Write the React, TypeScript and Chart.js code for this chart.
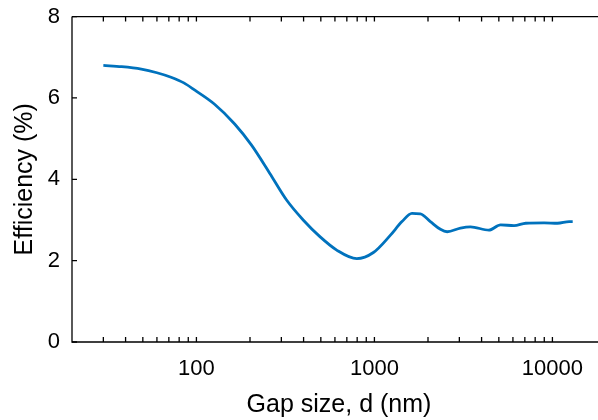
import React, { useEffect, useRef } from "react";
import { Chart, registerables } from "chart.js";

Chart.register(...registerables);

const gapSizes = [30, 38, 49, 60, 72, 85, 98, 126, 164, 204, 258, 321, 398, 494, 614, 796, 987, 1227, 1428, 1626, 1811, 2062, 2349, 2561, 3043, 3465, 4397, 5117, 6085, 7081, 8981, 10680, 12420, 13000];
const efficiency = [6.80, 6.77, 6.71, 6.62, 6.51, 6.37, 6.19, 5.85, 5.36, 4.84, 4.15, 3.49, 3.00, 2.59, 2.26, 2.05, 2.20, 2.62, 2.96, 3.16, 3.15, 2.96, 2.77, 2.71, 2.80, 2.83, 2.75, 2.88, 2.86, 2.92, 2.93, 2.92, 2.96, 2.96];
const xTickValues = [20, 30, 40, 50, 60, 70, 80, 90, 100, 200, 300, 400, 500, 600, 700, 800, 900, 1000, 2000, 3000, 4000, 5000, 6000, 7000, 8000, 9000, 10000, 20000];
const xLabelValues = [100, 1000, 10000];
const yTickValues = [0, 2, 4, 6, 8];

const FONT = "'Liberation Sans', Arial, Helvetica, sans-serif";

const axesBoxPlugin = {
  id: "axesBox",
  afterDraw(chart: any) {
    const { ctx, chartArea } = chart;
    const xs = chart.scales.x;
    const ys = chart.scales.y;
    const { left, right, top, bottom } = chartArea;
    ctx.save();
    ctx.strokeStyle = "#000";
    ctx.lineWidth = 1.3;
    ctx.beginPath();
    ctx.moveTo(left, top);
    ctx.lineTo(left, bottom);
    ctx.lineTo(right, bottom);
    ctx.moveTo(left, top);
    ctx.lineTo(right, top);
    ctx.lineTo(right, bottom);
    ctx.stroke();
    const tl = 5;
    ctx.beginPath();
    xTickValues.forEach((v) => {
      if (v <= xs.min || v >= xs.max) return;
      const px = xs.getPixelForValue(v);
      ctx.moveTo(px, bottom);
      ctx.lineTo(px, bottom - tl);
      ctx.moveTo(px, top);
      ctx.lineTo(px, top + tl);
    });
    yTickValues.forEach((v) => {
      const py = ys.getPixelForValue(v);
      ctx.moveTo(left, py);
      ctx.lineTo(left + tl, py);
    });
    ctx.stroke();
    ctx.restore();
  },
};

export default function App() {
  const ref = useRef<HTMLCanvasElement>(null);
  useEffect(() => {
    if (!ref.current) return;
    Chart.defaults.font.family = FONT;
    Chart.defaults.color = "#000";
    const chart = new Chart(ref.current, {
      type: "line",
      data: {
        datasets: [
          {
            data: gapSizes.map((g, i) => ({ x: g, y: efficiency[i] })),
            borderColor: "#0072BD",
            borderWidth: 2.8,
            pointRadius: 0,
            fill: false,
            cubicInterpolationMode: "monotone",
          },
        ],
      },
      options: {
        responsive: false,
        animation: false,
        layout: { padding: { left: 0, right: 14, top: 16.6, bottom: 0 } },
        plugins: { legend: { display: false }, tooltip: { enabled: false } },
        scales: {
          x: {
            type: "logarithmic",
            min: 20,
            max: 20000,
            grid: { display: false },
            border: { display: false },
            afterBuildTicks: (scale: any) => {
              scale.ticks = xTickValues.map((v) => ({ value: v }));
            },
            afterFit: (scale: any) => {
              scale.height = 78;
              scale.paddingLeft = 0;
              scale.paddingRight = 0;
            },
            ticks: {
              autoSkip: false,
              maxRotation: 0,
              padding: 6,
              font: { size: 22, family: FONT },
              color: "#000",
              callback: (v: any) => (xLabelValues.includes(Number(v)) ? String(v) : ""),
            },
            title: {
              display: true,
              text: "Gap size, d (nm)",
              font: { size: 25, family: FONT },
              color: "#000",
              padding: { top: 0, bottom: 0 },
            },
          },
          y: {
            type: "linear",
            min: 0,
            max: 8,
            grid: { display: false },
            border: { display: false },
            afterBuildTicks: (scale: any) => {
              scale.ticks = yTickValues.map((v) => ({ value: v }));
            },
            afterFit: (scale: any) => {
              scale.width = 72;
              scale.paddingTop = 0;
              scale.paddingBottom = 0;
            },
            ticks: {
              padding: 4,
              font: { size: 22, family: FONT },
              color: "#000",
            },
            title: {
              display: true,
              text: "Efficiency (%)",
              font: { size: 25, family: FONT },
              color: "#000",
              padding: { top: 10, bottom: 0 },
            },
          },
        },
      },
      plugins: [axesBoxPlugin],
    } as any);
    return () => chart.destroy();
  }, []);
  return (
    <div style={{ position: "fixed", left: 0, top: 0, width: 598, height: 420, overflow: "hidden", background: "#fff" }}>
      <canvas ref={ref} width={620} height={420} style={{ display: "block" }} />
    </div>
  );
}
